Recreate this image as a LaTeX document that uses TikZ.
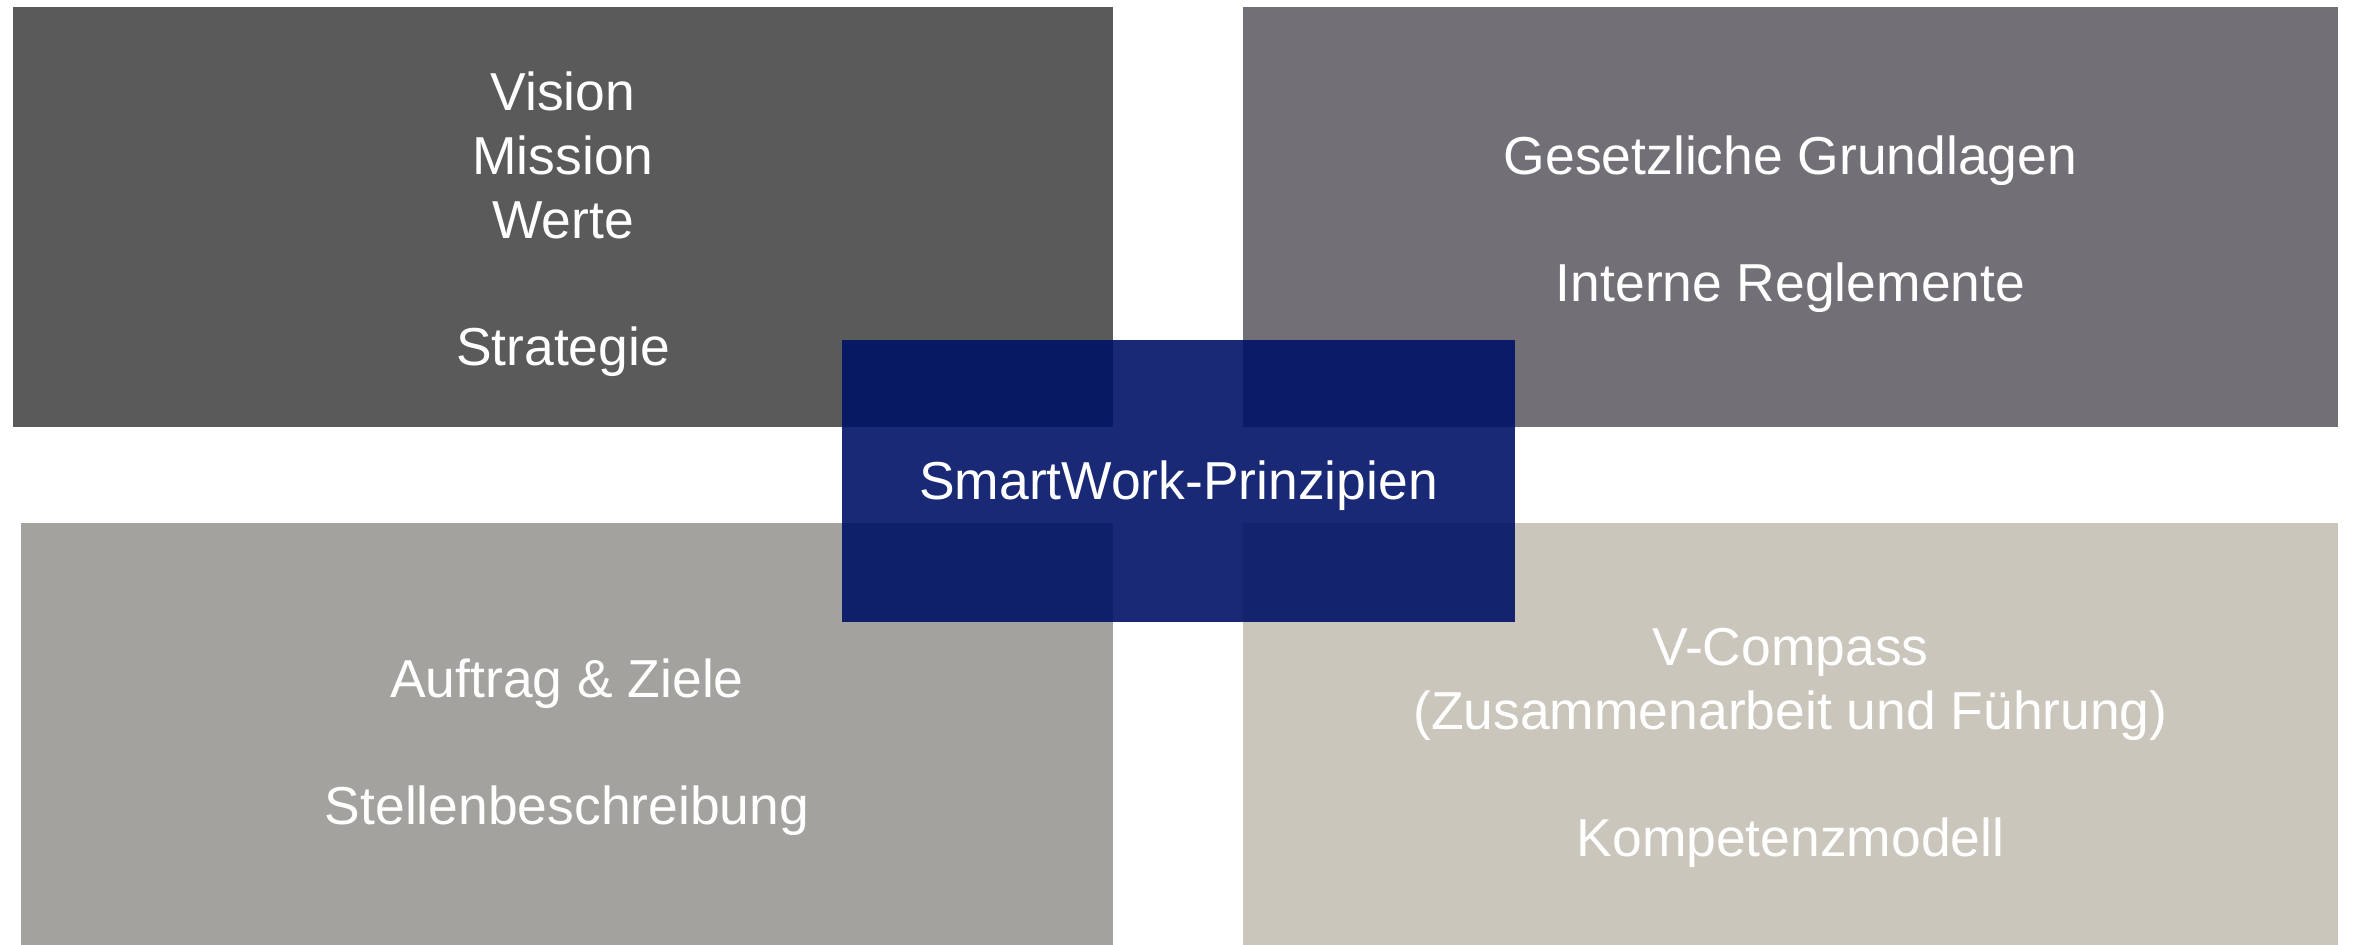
\documentclass[tikz,border=0pt]{standalone}
\usepackage{fontspec}
\setmainfont{Liberation Sans}
\usepackage{xcolor}
\usepackage{tikz}
\usetikzlibrary{positioning}

\definecolor{darkgrey}{HTML}{5A5A5A}
\definecolor{slategrey}{HTML}{727076}
\definecolor{midgrey}{HTML}{A3A29E}
\definecolor{sandgrey}{HTML}{CAC6BC}
\definecolor{navy}{RGB}{0,18,102}

% line boxes as PowerPoint sets them (ascent/descent of Arial)
\newcommand{\topstrut}{\rule{0pt}{15.2pt}}
\newcommand{\linestrut}{\rule[-3.2pt]{0pt}{17pt}}

\begin{document}
\begin{tikzpicture}[
    field/.style={rectangle, inner sep=0pt, align=center, text=white,
      font=\fontsize{15.2pt}{18.1pt}\selectfont},
    core/.style={field, fill=navy, fill opacity=0.9, text opacity=1,
      execute at begin node=\linestrut, execute at end node=\linestrut,
      minimum width=6.73cm, minimum height=2.82cm}
  ]
      \useasboundingbox (0,0) rectangle (23.54,-9.45);

      % Four grey fields
      \node[field, fill=darkgrey, minimum width=11.0cm, minimum height=4.2cm] (vision) at (5.63, -2.17)
        {\topstrut Vision\\Mission\\Werte\\[18.1pt]Strategie};
      \node[field, fill=slategrey, minimum width=10.95cm, minimum height=4.2cm] (gesetz) at (17.905, -2.17)
        {\topstrut Gesetzliche Grundlagen\\[18.1pt]Interne Reglemente};
      \node[field, fill=midgrey, minimum width=10.92cm, minimum height=4.34cm] (auftrag) at (5.67, -7.40)
        {\topstrut Auftrag \& Ziele\\[18.1pt]Stellenbeschreibung};
      \node[field, fill=sandgrey, minimum width=10.95cm, minimum height=4.34cm] (compass) at (17.905, -7.40)
        {\topstrut V-Compass\\(Zusammenarbeit und Führung)\\[18.1pt]Kompetenzmodell};

      % Principles in the middle
      \node[core] (smart) at (11.785, -4.81) {SmartWork-Prinzipien};
\end{tikzpicture}
\end{document}
